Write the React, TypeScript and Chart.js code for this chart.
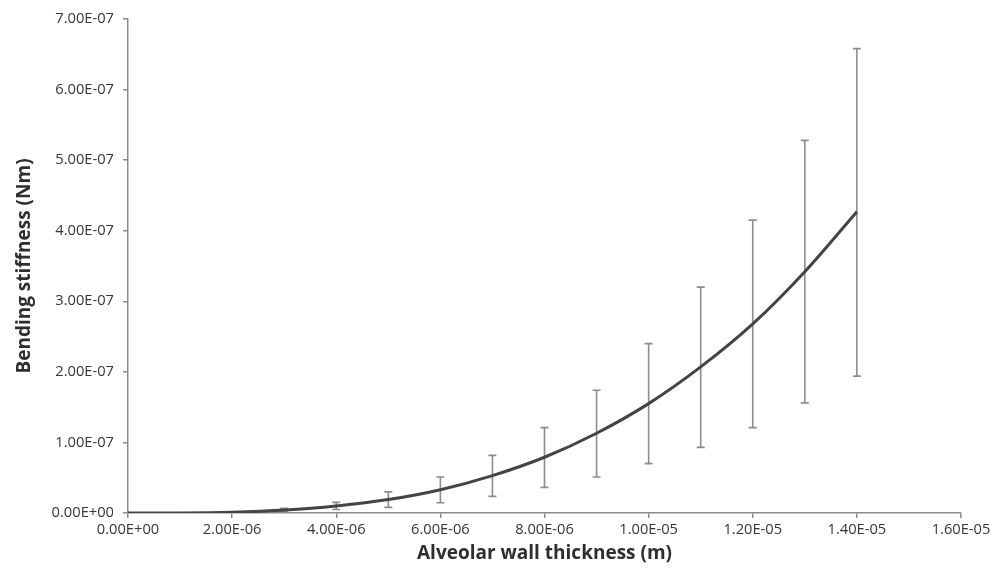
import React, { useEffect, useRef } from "react";
import { Chart, registerables } from "chart.js";

Chart.register(...registerables);

// Curve (mean bending stiffness vs. alveolar wall thickness)
const thickness = [0, 1e-6, 2e-6, 3e-6, 4e-6, 5e-6, 6e-6, 7e-6, 8e-6, 9e-6, 1e-5, 1.1e-5, 1.2e-5, 1.3e-5, 1.4e-5];
const stiffness = [0, 0.0016e-7, 0.012e-7, 0.042e-7, 0.1e-7, 0.19e-7, 0.33e-7, 0.53e-7, 0.79e-7, 1.13e-7, 1.55e-7, 2.07e-7, 2.68e-7, 3.42e-7, 4.27e-7];

// Error bars
const barThickness = [3e-6, 4e-6, 5e-6, 6e-6, 7e-6, 8e-6, 9e-6, 1e-5, 1.1e-5, 1.2e-5, 1.3e-5, 1.4e-5];
const barLower = [0.02e-7, 0.05e-7, 0.08e-7, 0.146e-7, 0.235e-7, 0.363e-7, 0.51e-7, 0.7e-7, 0.93e-7, 1.21e-7, 1.56e-7, 1.94e-7];
const barUpper = [0.065e-7, 0.15e-7, 0.3e-7, 0.51e-7, 0.816e-7, 1.21e-7, 1.74e-7, 2.4e-7, 3.2e-7, 4.15e-7, 5.28e-7, 6.58e-7];

// Tick values
const xTicks = [0, 2e-6, 4e-6, 6e-6, 8e-6, 1e-5, 1.2e-5, 1.4e-5, 1.6e-5];
const yTicks = [0, 1e-7, 2e-7, 3e-7, 4e-7, 5e-7, 6e-7, 7e-7];

const xTitle = "Alveolar wall thickness (m)";
const yTitle = "Bending stiffness (Nm)";

const FONT = "'Open Sans', 'DejaVu Sans', sans-serif";

function sci(v: number): string {
  if (Math.abs(v) < 1e-20) return "0.00E+00";
  const s = v.toExponential(2); // e.g. 7.00e-7
  const [m, e] = s.split("e");
  const sign = e[0] === "-" ? "-" : "+";
  const digits = e.replace(/^[+-]/, "").padStart(2, "0");
  return `${m}E${sign}${digits}`;
}

const errorBarPlugin = {
  id: "errorBars",
  beforeDatasetsDraw(chart: any) {
    const { ctx, scales } = chart;
    const xs = scales.x;
    const ys = scales.y;
    ctx.save();
    ctx.strokeStyle = "#8c8c8c";
    ctx.lineWidth = 1.6;
    const cap = 4;
    for (let i = 0; i < barThickness.length; i++) {
      const px = xs.getPixelForValue(barThickness[i]);
      const pLo = ys.getPixelForValue(barLower[i]);
      const pHi = ys.getPixelForValue(barUpper[i]);
      ctx.beginPath();
      ctx.moveTo(px, pLo);
      ctx.lineTo(px, pHi);
      ctx.moveTo(px - cap, pLo);
      ctx.lineTo(px + cap, pLo);
      ctx.moveTo(px - cap, pHi);
      ctx.lineTo(px + cap, pHi);
      ctx.stroke();
    }
    ctx.restore();
  },
};

export default function App() {
  const ref = useRef<HTMLCanvasElement | null>(null);

  useEffect(() => {
    if (!ref.current) return;
    const chart = new Chart(ref.current, {
      type: "scatter",
      data: {
        datasets: [
          {
            label: "Bending stiffness",
            data: thickness.map((x, i) => ({ x, y: stiffness[i] })),
            showLine: true,
            borderColor: "#444444",
            borderWidth: 3,
            pointRadius: 0,
            cubicInterpolationMode: "monotone",
            fill: false,
          },
        ],
      },
      options: {
        animation: false,
        responsive: true,
        maintainAspectRatio: false,
        layout: { padding: { top: 19, right: 40, bottom: 0, left: 0 } },
        plugins: {
          legend: { display: false },
          tooltip: { enabled: false },
        },
        scales: {
          x: {
            type: "linear",
            min: 0,
            max: 1.6e-5,
            afterBuildTicks: (scale: any) => {
              scale.ticks = xTicks.map((v) => ({ value: v }));
            },
            afterFit: (scale: any) => {
              scale.height = 63;
            },
            border: { display: true, color: "#8a8a8a", width: 1.5 },
            grid: { display: true, drawOnChartArea: false, drawTicks: true, tickLength: 5, color: "#8a8a8a", lineWidth: 1.5 },
            ticks: {
              autoSkip: false,
              maxRotation: 0,
              padding: 3,
              color: "#363636",
              font: { family: FONT, size: 14.7 },
              callback: (v: any) => sci(Number(v)),
            },
            title: {
              display: true,
              text: xTitle,
              color: "#2e2e2e",
              font: { family: FONT, size: 19, weight: "bold" },
              padding: { top: 0, bottom: 11 },
            },
          },
          y: {
            type: "linear",
            min: 0,
            max: 7e-7,
            afterBuildTicks: (scale: any) => {
              scale.ticks = yTicks.map((v) => ({ value: v }));
            },
            afterFit: (scale: any) => {
              scale.width = 128;
            },
            border: { display: true, color: "#8a8a8a", width: 1.5 },
            grid: { display: true, drawOnChartArea: false, drawTicks: true, tickLength: 5, color: "#8a8a8a", lineWidth: 1.5 },
            ticks: {
              autoSkip: false,
              padding: 9,
              color: "#363636",
              font: { family: FONT, size: 14.7 },
              callback: (v: any) => sci(Number(v)),
            },
            title: {
              display: true,
              text: yTitle,
              color: "#2e2e2e",
              font: { family: FONT, size: 19, weight: "bold" },
              padding: { top: 13, bottom: 0 },
            },
          },
        },
      },
      plugins: [errorBarPlugin],
    } as any);
    return () => chart.destroy();
  }, []);

  return (
    <div style={{ position: "fixed", left: 0, top: 0, width: 1001, height: 576, background: "#ffffff" }}>
      <canvas ref={ref} />
    </div>
  );
}
